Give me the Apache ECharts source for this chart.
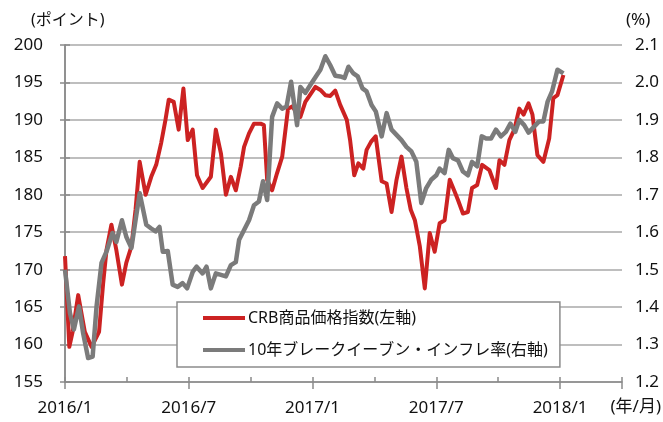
<!DOCTYPE html>
<html>
<head>
<meta charset="utf-8">
<script src="https://cdn.jsdelivr.net/npm/echarts@6/dist/echarts.min.js"></script>
<style>
html,body{margin:0;padding:0;background:#fff;}
#chart{width:663px;height:422px;}
</style>
</head>
<body>
<div id="chart"></div>
<script>
// x positions are months elapsed since 2016/1 (weekly observations)
const xTickLabels = ['2016/1','','2016/7','','2017/1','','2017/7','','2018/1',''];

const crbMonths = [0.00,0.21,0.37,0.64,0.96,1.29,1.65,1.85,2.01,2.25,2.49,2.76,2.97,3.22,3.42,3.62,3.91,4.18,4.42,4.66,
  4.87,5.03,5.27,5.51,5.74,5.95,6.19,6.40,6.67,7.07,7.31,7.56,7.80,8.04,8.28,8.52,8.68,8.92,9.16,9.48,
  9.64,9.80,10.04,10.28,10.53,10.81,11.01,11.41,11.65,12.14,12.38,12.62,12.86,13.10,13.34,13.66,13.82,14.02,14.22,14.46,
  14.62,14.84,15.06,15.35,15.59,15.83,16.07,16.31,16.55,16.76,16.96,17.20,17.44,17.68,17.92,18.16,18.40,18.65,18.89,19.05,
  19.29,19.53,19.73,19.98,20.22,20.57,20.89,21.06,21.30,21.54,21.78,22.02,22.23,22.47,22.66,22.90,23.19,23.47,23.67,23.87,24.16];
const crbValues = [171.8,159.7,161.7,166.6,161.7,159.7,161.7,168.2,172.6,176.0,172.6,168.0,170.9,173.1,178.0,184.4,180.0,182.4,184.0,186.9,
  190.0,192.7,192.4,188.7,194.2,187.3,188.7,182.6,180.9,182.4,188.7,185.5,180.0,182.4,180.6,183.8,186.4,188.2,189.5,189.5,
  189.3,182.0,180.6,182.9,185.1,191.5,191.8,190.4,192.4,194.4,194.0,193.3,193.2,193.9,192.0,190.0,187.3,182.6,184.2,183.5,
  186.0,187.1,187.8,181.8,181.5,177.7,182.0,185.1,180.9,178.0,176.6,173.1,167.5,174.9,172.4,176.2,176.6,182.0,180.4,179.3,
  177.5,177.7,180.9,181.3,184.0,183.3,180.9,184.6,184.0,187.3,188.7,191.5,190.7,192.2,190.7,185.3,184.4,187.5,192.9,193.3,196.0];

const beiMonths = [0.00,0.24,0.43,0.68,0.88,1.12,1.34,1.53,1.77,2.01,2.30,2.49,2.76,2.97,3.22,3.42,3.62,3.94,4.18,4.39,
  4.58,4.74,4.98,5.22,5.46,5.70,5.92,6.19,6.38,6.67,6.86,7.07,7.31,7.56,7.80,8.04,8.28,8.44,8.68,8.92,
  9.16,9.40,9.60,9.80,10.04,10.28,10.53,10.74,10.96,11.25,11.41,11.65,11.90,12.21,12.38,12.62,12.86,13.10,13.34,13.55,
  13.74,13.98,14.19,14.42,14.62,14.86,15.07,15.35,15.59,15.83,16.07,16.31,16.55,16.79,17.03,17.27,17.51,17.75,18.00,18.16,
  18.40,18.60,18.80,19.05,19.29,19.53,19.73,19.98,20.20,20.41,20.65,20.89,21.13,21.37,21.59,21.83,22.02,22.26,22.47,22.74,
  22.98,23.19,23.39,23.61,23.87,24.16];
const beiValues = [1.50,1.384,1.34,1.402,1.33,1.264,1.268,1.402,1.518,1.548,1.598,1.574,1.632,1.588,1.558,1.632,1.704,1.62,1.61,1.602,
  1.614,1.548,1.55,1.46,1.454,1.464,1.45,1.494,1.508,1.49,1.508,1.45,1.49,1.486,1.482,1.512,1.52,1.58,1.606,1.632,
  1.672,1.682,1.736,1.686,1.908,1.944,1.93,1.936,2.002,1.886,1.988,1.972,1.994,2.02,2.034,2.07,2.046,2.018,2.016,2.012,
  2.042,2.024,2.016,1.984,1.976,1.94,1.922,1.856,1.918,1.874,1.86,1.846,1.828,1.816,1.788,1.678,1.718,1.74,1.752,1.77,
  1.758,1.82,1.798,1.792,1.762,1.752,1.788,1.776,1.856,1.85,1.85,1.874,1.856,1.868,1.89,1.868,1.9,1.886,1.866,1.882,
  1.896,1.896,1.948,1.976,2.034,2.024];

const crbName = 'CRB商品価格指数(左軸)';
const beiName = '10年ブレークイーブン・インフレ率(右軸)';

const FONT = '"Noto Sans", "Noto Sans CJK JP", sans-serif';
const TXT = '#111';
const AX = '#8a8a8a';
const GRIDC = '#a9a9a9';

const chart = echarts.init(document.getElementById('chart'), null, {renderer: 'canvas'});

const crbData = crbMonths.map((m, i) => [m, crbValues[i]]);
const beiData = beiMonths.map((m, i) => [m, beiValues[i]]);

chart.setOption({
  animation: false,
  backgroundColor: '#fff',
  textStyle: {fontFamily: FONT},
  grid: {left: 65, right: 41, top: 45, bottom: 40},
  xAxis: [
    {
      type: 'value', min: 0, max: 27, interval: 3,
      axisLine: {show: true, lineStyle: {color: AX, width: 1.5}},
      axisTick: {show: true, inside: true, length: 5, lineStyle: {color: AX, width: 1.5}},
      axisLabel: {show: false},
      splitLine: {show: false}
    },
    {
      type: 'value', min: 0, max: 27, interval: 6, position: 'bottom',
      axisLine: {show: false},
      axisTick: {show: true, inside: false, length: 7, lineStyle: {color: AX, width: 1.5}},
      axisLabel: {
        show: true, margin: 18, fontSize: 17, color: TXT, fontFamily: FONT,
        formatter: v => { const i = Math.round(v / 3); return xTickLabels[i] || ''; }
      },
      splitLine: {show: false}
    }
  ],
  yAxis: [
    {
      type: 'value', min: 155, max: 200, interval: 5, position: 'left',
      axisLine: {show: true, lineStyle: {color: AX, width: 1.5}},
      axisTick: {show: true, inside: false, length: 5, lineStyle: {color: AX, width: 1.5}},
      axisLabel: {margin: 22, fontSize: 17, color: TXT, fontFamily: FONT},
      splitLine: {show: true, lineStyle: {color: GRIDC, width: 1.5}}
    },
    {
      type: 'value', min: 1.2, max: 2.1, interval: 0.1, position: 'right',
      axisLine: {show: true, lineStyle: {color: AX, width: 1.5}},
      axisTick: {show: true, inside: false, length: 5, lineStyle: {color: AX, width: 1.5}},
      axisLabel: {margin: 13, fontSize: 17, color: TXT, fontFamily: FONT, formatter: v => v.toFixed(1)},
      splitLine: {show: false}
    }
  ],
  legend: {
    orient: 'vertical',
    left: 177, top: 302,
    padding: [8, 12, 9, 26],
    itemGap: 16,
    itemWidth: 42, itemHeight: 4,
    icon: 'rect',
    backgroundColor: '#fff',
    borderColor: '#8c8c8c', borderWidth: 1.5,
    selectedMode: false,
    textStyle: {fontSize: 16, color: TXT, fontFamily: FONT, lineHeight: 16, padding: [0, 0, 0, -2]},
    data: [crbName, beiName]
  },
  graphic: [
    {type: 'text', left: 31, top: 12, style: {text: '(ポイント)', fontSize: 16, fill: TXT, fontFamily: FONT}},
    {type: 'text', left: 626, top: 12, style: {text: '(%)', fontSize: 17, fill: TXT, fontFamily: FONT}},
    {type: 'text', right: 2, top: 399, style: {text: '(年/月)', fontSize: 17, fill: TXT, fontFamily: FONT}}
  ],
  series: [
    {
      name: crbName, type: 'line', xAxisIndex: 0, yAxisIndex: 0,
      data: crbData, showSymbol: false, symbol: 'none',
      itemStyle: {color: '#cc2222'},
      lineStyle: {color: '#cc2222', width: 4, join: 'round'},
      z: 3
    },
    {
      name: beiName, type: 'line', xAxisIndex: 0, yAxisIndex: 1,
      data: beiData, showSymbol: false, symbol: 'none',
      itemStyle: {color: '#7b7b7b'},
      lineStyle: {color: '#7b7b7b', width: 4.5, join: 'round'},
      z: 4
    }
  ]
});
</script>
</body>
</html>
